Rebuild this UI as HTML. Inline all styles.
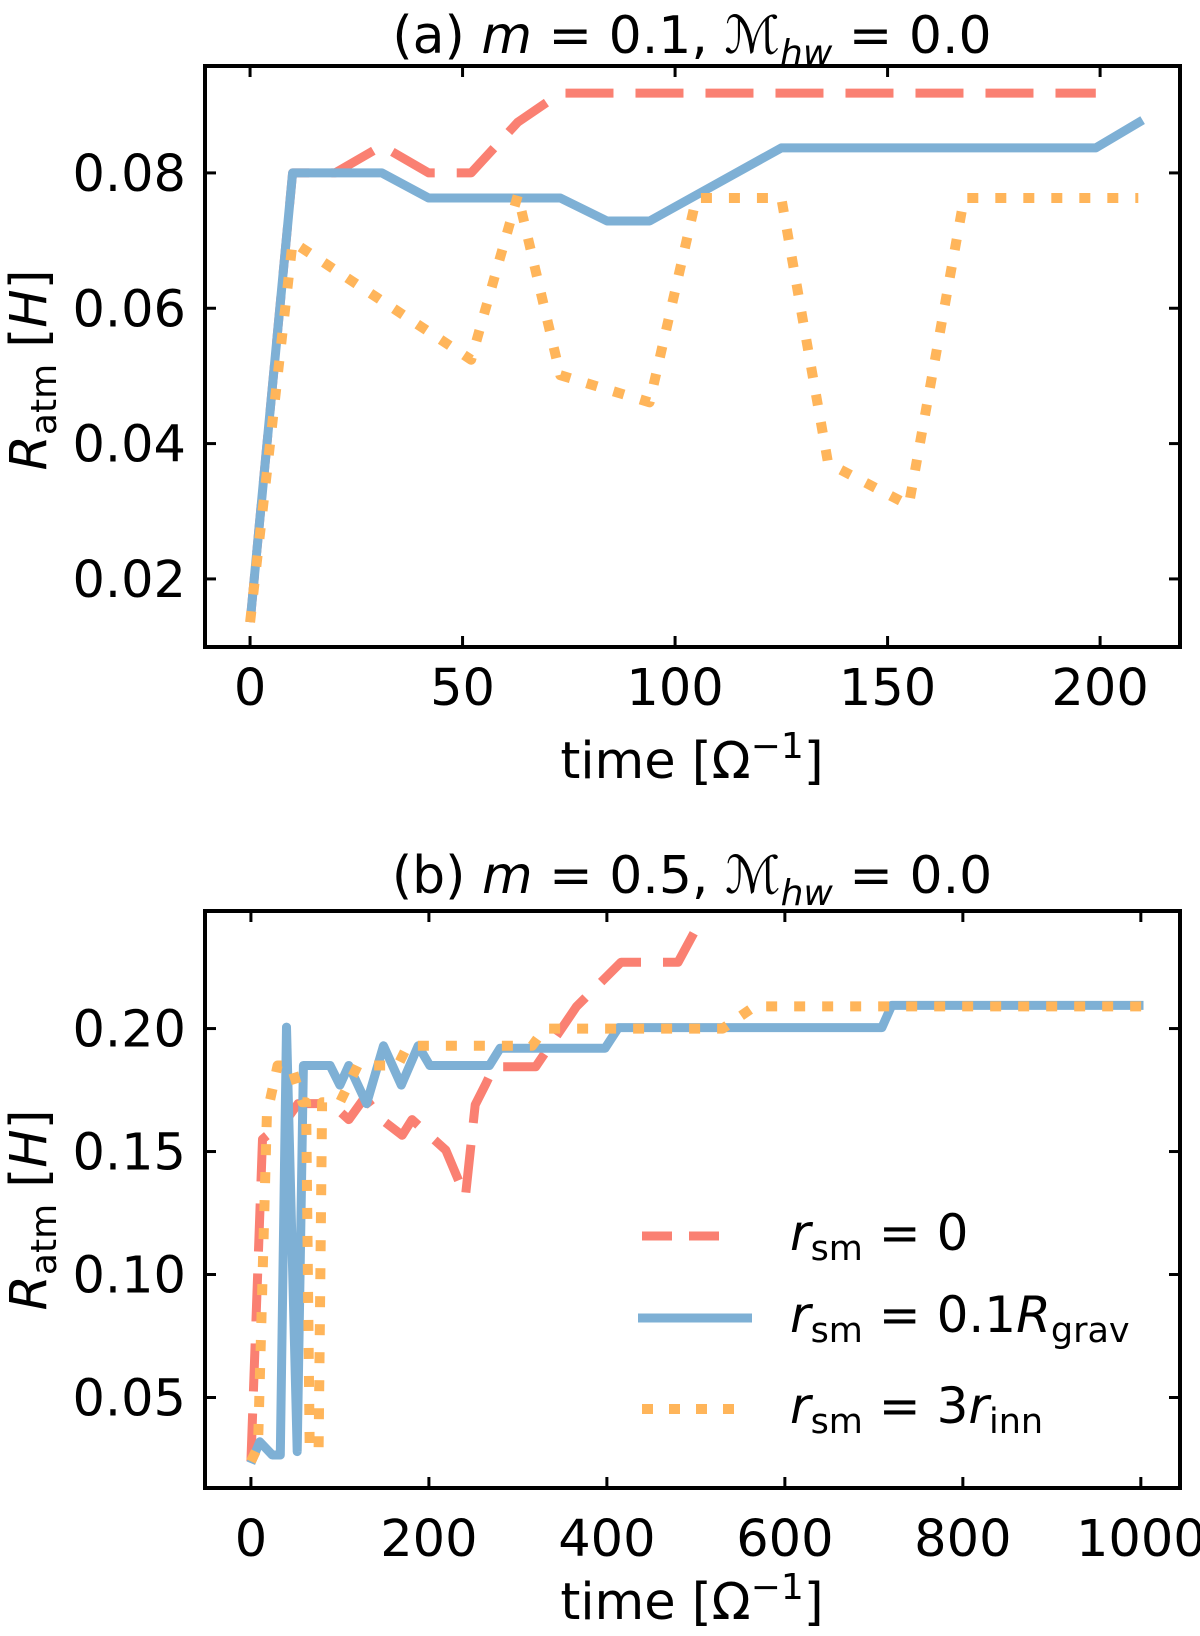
<!DOCTYPE html>
<html><head><meta charset="utf-8"><style>
html,body{margin:0;padding:0;background:#fff;}
svg{display:block;font-family:"DejaVu Sans","Liberation Sans",sans-serif;}
</style></head><body>
<svg id="fig" width="1200" height="1636" viewBox="0 0 1200 1636" xmlns="http://www.w3.org/2000/svg"></svg>
<script>
// ---- panel (a) data ----
const aXTicks = [0, 50, 100, 150, 200];
const aYTicks = [0.02, 0.04, 0.06, 0.08];
const aYTickLabels = ["0.02", "0.04", "0.06", "0.08"];
const aRedT = [0, 10, 20, 31, 42, 52, 63, 73, 199];
const aRedV = [0.0136, 0.080, 0.080, 0.0840, 0.0800, 0.0800, 0.0875, 0.0918, 0.0918];
const aBlueT = [0, 10, 31, 42, 73, 84, 94, 125, 199, 210];
const aBlueV = [0.0136, 0.080, 0.080, 0.0763, 0.0763, 0.0729, 0.0729, 0.0837, 0.0837, 0.0878];
const aOrangeT = [0, 10, 52, 63, 73, 94, 105, 125, 136, 155, 168, 209];
const aOrangeV = [0.0136, 0.0698, 0.0524, 0.0767, 0.0501, 0.0461, 0.0763, 0.0763, 0.0371, 0.0309, 0.0763, 0.0763];
// ---- panel (b) data ----
const bXTicks = [0, 200, 400, 600, 800, 1000];
const bYTicks = [0.05, 0.10, 0.15, 0.20];
const bYTickLabels = ["0.05", "0.10", "0.15", "0.20"];
const bRedT = [0, 13, 40, 53, 90, 110, 128, 147, 170, 181, 219, 241, 252, 264, 273, 320, 366, 416, 480, 498];
const bRedV = [0.024, 0.155, 0.163, 0.1695, 0.1695, 0.163, 0.172, 0.163, 0.1566, 0.163, 0.1506, 0.1316, 0.169, 0.1776, 0.1845, 0.1845, 0.209, 0.227, 0.227, 0.239];
const bBlueT = [0, 10, 24, 33, 40, 52, 59, 89, 100, 110, 130, 149, 169, 188, 201, 268, 280, 398, 413, 709, 720, 1003];
const bBlueV = [0.0233, 0.032, 0.0266, 0.0266, 0.2006, 0.028, 0.185, 0.185, 0.177, 0.185, 0.1695, 0.193, 0.177, 0.193, 0.185, 0.185, 0.192, 0.192, 0.2004, 0.2004, 0.2094, 0.2094];
const bOrangeT = [0, 8, 18, 30, 45, 58, 62, 66, 76, 80, 100, 120, 165, 176, 316, 330, 530, 566, 1003];
const bOrangeV = [0.024, 0.030, 0.165, 0.185, 0.185, 0.170, 0.170, 0.029, 0.029, 0.170, 0.170, 0.185, 0.185, 0.193, 0.193, 0.200, 0.200, 0.209, 0.209];

const NS = "http://www.w3.org/2000/svg";
const svg = document.getElementById("fig");
const RED = "#fa8072", BLUE = "#7eb0d5", ORANGE = "#ffb55a";

function mk(tag, attrs, parent) {
  const e = document.createElementNS(NS, tag);
  for (const k in attrs) e.setAttribute(k, attrs[k]);
  (parent || svg).appendChild(e);
  return e;
}

function panel(cfg) {
  const g = mk("g", {});
  
  
  const L = 205, R = 1180, T = cfg.top, B = cfg.bottom;
  const X = t => L + (t - cfg.xmin) / (cfg.xmax - cfg.xmin) * (R - L);
  const Y = v => B - (v - cfg.ymin) / (cfg.ymax - cfg.ymin) * (B - T);
  const clip = mk("clipPath", {id: cfg.name + "-clip"}, g);
  mk("rect", {x: L, y: T, width: R - L, height: B - T}, clip);
  const series = [
    [cfg.orangeT, cfg.orangeV, ORANGE, "10", "11 17", "series-3rinn"],
    [cfg.blueT, cfg.blueV, BLUE, "9", "", "series-0.1rgrav"],
    [cfg.redT, cfg.redV, RED, "9", "48 22", "series-rsm0"],
  ];
  const order = [series[2], series[1], series[0]];
  for (const s of order) {
    const pts = s[0].map((t, i) => X(t).toFixed(1) + "," + Y(s[1][i]).toFixed(1)).join(" ");
    const pl = mk("polyline", {points: pts, fill: "none", stroke: s[2], "stroke-width": s[3], "stroke-linejoin": "round", "clip-path": "url(#" + cfg.name + "-clip)"}, g);
    if (s[4]) pl.setAttribute("stroke-dasharray", s[4]);
    
    
  }
  cfg.xTicks.forEach(t => {
    const x = X(t);
    mk("line", {x1: x, y1: B, x2: x, y2: B - 11, stroke: "#000", "stroke-width": 3}, g);
    mk("line", {x1: x, y1: T, x2: x, y2: T + 11, stroke: "#000", "stroke-width": 3}, g);
    const tx = mk("text", {x: x, y: cfg.xLabelY, "text-anchor": "middle", "font-size": 51}, g);
    tx.textContent = String(t);
    
    
  });
  cfg.yTicks.forEach((v, i) => {
    const y = Y(v);
    mk("line", {x1: L, y1: y, x2: L + 11, y2: y, stroke: "#000", "stroke-width": 3}, g);
    mk("line", {x1: R, y1: y, x2: R - 11, y2: y, stroke: "#000", "stroke-width": 3}, g);
    const ty = mk("text", {x: 186, y: y + 18, "text-anchor": "end", "font-size": 51}, g);
    ty.textContent = cfg.yTickLabels[i];
    
    
  });
  const fr = mk("rect", {x: L, y: T, width: R - L, height: B - T, fill: "none", stroke: "#000", "stroke-width": 4}, g);
  
  
  return g;
}

panel({name: "panel-a", top: 66, bottom: 647, xmin: -10.6, xmax: 218.8, ymin: 0.00994, ymax: 0.0958,
  xTicks: aXTicks, yTicks: aYTicks, yTickLabels: aYTickLabels, xLabelY: 705,
  redT: aRedT, redV: aRedV, blueT: aBlueT, blueV: aBlueV, orangeT: aOrangeT, orangeV: aOrangeV});
panel({name: "panel-b", top: 911, bottom: 1488, xmin: -51.6, xmax: 1044, ymin: 0.0132, ymax: 0.2478,
  xTicks: bXTicks, yTicks: bYTicks, yTickLabels: bYTickLabels, xLabelY: 1556,
  redT: bRedT, redV: bRedV, blueT: bBlueT, blueV: bBlueV, orangeT: bOrangeT, orangeV: bOrangeV});
</script>
<svg width="1200" height="1636" viewBox="0 0 1200 1636" xmlns="http://www.w3.org/2000/svg" style="position:absolute;left:0;top:0;font-family:'DejaVu Sans','Liberation Sans',sans-serif;">
  <text x="692" y="53" text-anchor="middle" font-size="52">(a) <tspan font-style="italic">m</tspan> = 0.1,  <tspan font-style="italic">ℳ</tspan><tspan font-style="italic" font-size="36" dy="12">hw</tspan><tspan dy="-12"> = 0.0</tspan></text>
  <text x="692" y="893" text-anchor="middle" font-size="52">(b) <tspan font-style="italic">m</tspan> = 0.5,  <tspan font-style="italic">ℳ</tspan><tspan font-style="italic" font-size="36" dy="12">hw</tspan><tspan dy="-12"> = 0.0</tspan></text>
  <text x="692" y="778" text-anchor="middle" font-size="51">time [Ω<tspan font-size="36" dy="-20">−1</tspan><tspan dy="20">]</tspan></text>
  <text x="692" y="1619" text-anchor="middle" font-size="51">time [Ω<tspan font-size="36" dy="-20">−1</tspan><tspan dy="20">]</tspan></text>
  <text transform="translate(46,370) rotate(-90)" text-anchor="middle" font-size="51"><tspan font-style="italic">R</tspan><tspan font-size="36" dy="10">atm</tspan><tspan dy="-10"> [</tspan><tspan font-style="italic">H</tspan>]</text>
  <text transform="translate(46,1210) rotate(-90)" text-anchor="middle" font-size="51"><tspan font-style="italic">R</tspan><tspan font-size="36" dy="10">atm</tspan><tspan dy="-10"> [</tspan><tspan font-style="italic">H</tspan>]</text>
  <g>
    <line x1="642" y1="1236" x2="732" y2="1236" stroke="#fa8072" stroke-width="9" stroke-dasharray="30 17"/>
    <text x="790" y="1250" font-size="50"><tspan font-style="italic">r</tspan><tspan font-size="35" dy="10">sm</tspan><tspan dy="-10"> = 0</tspan></text>
    <line x1="638" y1="1318" x2="752" y2="1318" stroke="#7eb0d5" stroke-width="9"/>
    <text x="790" y="1332" font-size="50"><tspan font-style="italic">r</tspan><tspan font-size="35" dy="10">sm</tspan><tspan dy="-10"> = 0.1</tspan><tspan font-style="italic">R</tspan><tspan font-size="35" dy="10">grav</tspan></text>
    <line x1="642" y1="1409" x2="735" y2="1409" stroke="#ffb55a" stroke-width="10" stroke-dasharray="11 16"/>
    <text x="790" y="1423" font-size="50"><tspan font-style="italic">r</tspan><tspan font-size="35" dy="10">sm</tspan><tspan dy="-10"> = 3</tspan><tspan font-style="italic">r</tspan><tspan font-size="35" dy="10">inn</tspan></text>
  </g>
</svg>
</body></html>
